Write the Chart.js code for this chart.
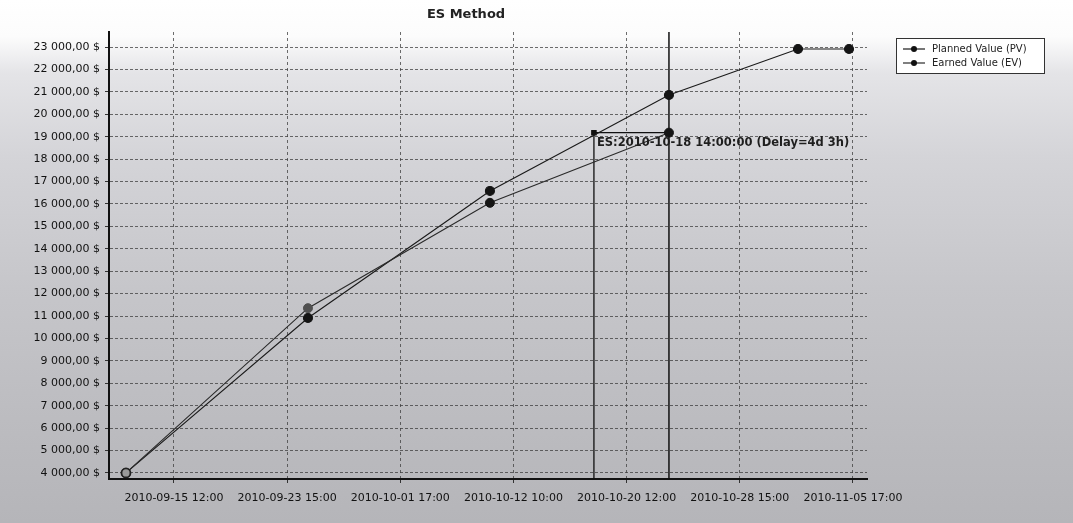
<!DOCTYPE html>
<html>
<head>
<meta charset="utf-8">
<script src="https://cdn.jsdelivr.net/npm/chart.js@4/dist/chart.umd.min.js"></script>
<style>
  html, body { margin: 0; padding: 0; background: #ffffff; }
  #wrap { width: 1073px; height: 523px; position: relative; }
</style>
</head>
<body>
<div id="wrap"><canvas id="c" width="1073" height="523"></canvas></div>
<script>
// Time axis: evenly spaced calendar ticks (positions 0..6 on the working-time scale)
const tickLabels = [
  '2010-09-15 12:00', '2010-09-23 15:00', '2010-10-01 17:00', '2010-10-12 10:00',
  '2010-10-20 12:00', '2010-10-28 15:00', '2010-11-05 17:00'
];

// Planned Value (PV)
const pvTime  = [-0.424, 1.184, 2.792, 4.374, 5.514, 5.965];
const pvValue = [4000, 10910, 16580, 20860, 22910, 22910];

// Earned Value (EV), up to the status date
const evTime  = [-0.424, 1.184, 2.792, 4.374];
const evValue = [4000, 11350, 16050, 19180];

// Earned Schedule result
const esTime = 3.711;
const statusTime = 4.374;
const esText = 'ES:2010-10-18 14:00:00 (Delay=4d 3h)';

// Value axis
const yTicks = [4000, 5000, 6000, 7000, 8000, 9000, 10000, 11000, 12000, 13000, 14000,
  15000, 16000, 17000, 18000, 19000, 20000, 21000, 22000, 23000];
const yMin = 3730, yMax = 23670;
const xMin = -0.574, xMax = 6.124;

const FONT = "'DejaVu Sans', Verdana, sans-serif";

function money(v) {
  const s = Math.round(v).toString().replace(/\B(?=(\d{3})+(?!\d))/g, ' ');
  return s + ',00 $';
}

const pts = (xs, ys) => xs.map((x, i) => ({ x: x, y: ys[i] }));
const evAtStatus = evValue[evValue.length - 1];

const backdrop = {
  id: 'backdrop',
  beforeDraw(chart) {
    const { ctx, width, height } = chart;
    const g = ctx.createLinearGradient(0, 0, 0, height);
    g.addColorStop(0, '#ffffff');
    g.addColorStop(0.07, '#fcfcfc');
    g.addColorStop(0.14, '#e4e4e7');
    g.addColorStop(0.3, '#d4d4d8');
    g.addColorStop(0.55, '#c6c6ca');
    g.addColorStop(0.8, '#bcbcc0');
    g.addColorStop(1, '#b5b5b9');
    ctx.save();
    ctx.fillStyle = g;
    ctx.fillRect(0, 0, width, height);
    ctx.restore();
  }
};

const decorations = {
  id: 'decorations',
  afterDraw(chart) {
    const { ctx } = chart;
    const xs = chart.scales.x, ys = chart.scales.y;
    ctx.save();
    // title
    ctx.fillStyle = '#222';
    ctx.font = 'bold 13px ' + FONT;
    ctx.textAlign = 'center';
    ctx.textBaseline = 'middle';
    ctx.fillText('ES Method', 466, 15);

    // ES annotation
    ctx.font = 'bold 11.5px ' + FONT;
    ctx.textAlign = 'left';
    ctx.fillStyle = '#1e1e1e';
    ctx.fillText(esText, xs.getPixelForValue(esTime) + 3, ys.getPixelForValue(evAtStatus) + 10);

    // legend
    const lx = 896, ly = 38, lw = 148, lh = 35;
    ctx.fillStyle = '#ffffff';
    ctx.fillRect(lx, ly, lw, lh);
    ctx.strokeStyle = '#333';
    ctx.lineWidth = 1;
    ctx.strokeRect(lx + 0.5, ly + 0.5, lw, lh);
    ctx.font = '10px ' + FONT;
    ctx.textBaseline = 'middle';
    const entries = chart.data.datasets.filter(d => d.inLegend);
    entries.forEach((d, i) => {
      const y = ly + 11 + i * 14;
      ctx.strokeStyle = d.borderColor;
      ctx.lineWidth = 1.2;
      ctx.beginPath();
      ctx.moveTo(lx + 7, y);
      ctx.lineTo(lx + 29, y);
      ctx.stroke();
      ctx.fillStyle = '#111';
      ctx.beginPath();
      ctx.arc(lx + 18, y, 3, 0, Math.PI * 2);
      ctx.fill();
      ctx.fillStyle = '#222';
      ctx.fillText(d.label, lx + 36, y);
    });
    ctx.restore();
  }
};

const gridStyle = {
  color: 'rgba(60,60,60,0.75)',
  lineWidth: 1,
  tickLength: 4,
  tickColor: '#333',
  tickBorderDash: []
};

new Chart(document.getElementById('c'), {
  type: 'line',
  data: {
    datasets: [
      {
        label: 'Planned Value (PV)',
        inLegend: true,
        data: pts(pvTime, pvValue),
        borderColor: '#1a1a1a',
        borderWidth: 1.1,
        pointRadius: 4.5,
        pointBackgroundColor: '#141414',
        pointBorderColor: '#141414',
        order: 2
      },
      {
        label: 'Earned Value (EV)',
        inLegend: true,
        data: pts(evTime, evValue),
        borderColor: '#2a2a2a',
        borderWidth: 1.1,
        pointRadius: 4.5,
        pointBackgroundColor: ['#9a9a9a', '#505050', '#151515', '#151515'],
        pointBorderColor: ['#222', '#505050', '#151515', '#151515'],
        pointBorderWidth: [1.8, 1, 1, 1],
        order: 1
      },
      {
        label: 'ES',
        data: [{ x: esTime, y: yMin }, { x: esTime, y: evAtStatus }, { x: statusTime, y: evAtStatus }],
        borderColor: '#111',
        borderWidth: 1.3,
        pointRadius: [0, 3, 0],
        pointStyle: 'rect',
        pointBackgroundColor: '#111',
        pointBorderColor: '#111',
        order: 3
      },
      {
        label: 'Status',
        data: [{ x: statusTime, y: yMin }, { x: statusTime, y: yMax }],
        borderColor: '#111',
        borderWidth: 1.5,
        pointRadius: 0,
        order: 4
      }
    ]
  },
  options: {
    responsive: false,
    devicePixelRatio: 1,
    animation: false,
    layout: { padding: { left: 0, right: 206, top: 32, bottom: 14 } },
    plugins: {
      legend: { display: false },
      title: { display: false },
      tooltip: { enabled: false }
    },
    scales: {
      x: {
        type: 'linear',
        min: xMin,
        max: xMax,
        afterBuildTicks(scale) { scale.ticks = tickLabels.map((_, i) => ({ value: i })); },
        afterFit(scale) { scale.height = 30; },
        ticks: {
          autoSkip: false,
          maxRotation: 0,
          padding: 9,
          color: '#111',
          font: { family: FONT, size: 11 },
          callback: (v) => tickLabels[Math.round(v)]
        },
        grid: gridStyle,
        border: { display: true, color: '#111', width: 2, dash: [3, 3] }
      },
      y: {
        type: 'linear',
        min: yMin,
        max: yMax,
        afterBuildTicks(scale) { scale.ticks = yTicks.map(v => ({ value: v })); },
        afterFit(scale) { scale.width = 109; },
        ticks: {
          padding: 5,
          color: '#111',
          font: { family: FONT, size: 11 },
          callback: (v) => money(v)
        },
        grid: gridStyle,
        border: { display: true, color: '#111', width: 2, dash: [3, 2] }
      }
    }
  },
  plugins: [backdrop, decorations]
});
</script>
</body>
</html>
